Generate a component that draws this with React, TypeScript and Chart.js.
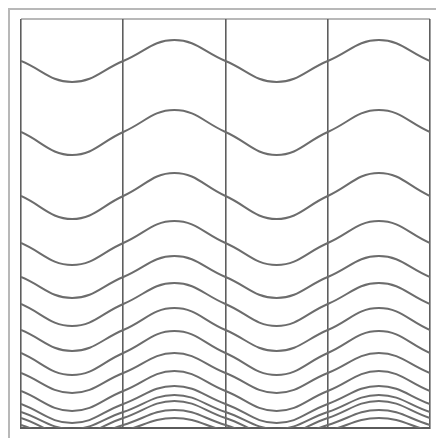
import React, { useEffect, useRef } from "react";
import { Chart, registerables } from "chart.js";

Chart.register(...registerables);

// Horizontal positions along the strip: dividers at whole numbers, wave extremes at halves
const xStops = [0, 0.5, 1, 1.5, 2, 2.5, 3, 3.5, 4];
const columnTicks = [0, 1, 2, 3, 4];
// Which value each stop uses
const stopKind = ["mid", "trough", "mid", "crest", "mid", "trough", "mid", "crest", "mid"];

// Depth (from top of plot) of each curve where it crosses the dividers
const dividerDepth = [42, 113, 177, 224, 258, 285, 311, 334, 354, 372, 385, 393, 399, 406, 412];
// Depth of each curve at its high points (columns 2 and 4)
const crestDepth = [21, 91, 154, 202, 237, 264, 289, 312, 334, 352, 367, 376, 382, 391, 399];
// Depth of each curve at its low points (columns 1 and 3)
const troughDepth = [63, 136, 200, 246, 279, 307, 332, 356, 374, 392, 404, 410, 416, 421, 425];

const depthMin = 0;
const depthMax = 409;

const framePlugin = {
  id: "frame",
  beforeDraw(chart: any) {
    const ctx = chart.ctx;
    ctx.save();
    ctx.fillStyle = "#ffffff";
    ctx.fillRect(0, 0, chart.width, chart.height);
    // outer frame
    ctx.strokeStyle = "#b8b8b8";
    ctx.lineWidth = 2;
    ctx.beginPath();
    ctx.moveTo(9, chart.height);
    ctx.lineTo(9, 9);
    ctx.lineTo(chart.width, 9);
    ctx.stroke();
    // top inner border
    const a = chart.chartArea;
    ctx.strokeStyle = "#a0a0a0";
    ctx.lineWidth = 1.5;
    ctx.beginPath();
    ctx.moveTo(a.left, a.top);
    ctx.lineTo(a.right, a.top);
    ctx.stroke();
    ctx.restore();
  },
};

export default function App() {
  const ref = useRef<HTMLCanvasElement | null>(null);

  useEffect(() => {
    if (!ref.current) return;
    const datasets = dividerDepth.map((mid, i) => ({
      label: "curve " + (i + 1),
      data: xStops.map((x, j) => ({
        x,
        y: stopKind[j] === "mid" ? mid : stopKind[j] === "crest" ? crestDepth[i] : troughDepth[i],
      })),
      borderColor: "#6c6c6c",
      borderWidth: 2,
      pointRadius: 0,
      fill: false,
      tension: 0.42,
    }));

    const chart = new Chart(ref.current, {
      type: "line",
      data: { datasets },
      options: {
        responsive: false,
        animation: false,
        events: [],
        layout: { padding: { left: 21, top: 19, right: 6, bottom: 10 } },
        plugins: { legend: { display: false }, tooltip: { enabled: false } },
        scales: {
          x: {
            type: "linear",
            min: 0,
            max: 4,
            afterBuildTicks: (s: any) => {
              s.ticks = columnTicks.map((v) => ({ value: v }));
            },
            ticks: { display: false },
            grid: { color: "#5e5e5e", lineWidth: 1.6, drawTicks: false },
            border: { display: true, color: "#5a5a5a", width: 2 },
          },
          y: {
            type: "linear",
            reverse: true,
            min: depthMin,
            max: depthMax,
            display: false,
          },
        },
      },
      plugins: [framePlugin],
    });
    return () => chart.destroy();
  }, []);

  return (
    <div style={{ position: "fixed", left: 0, top: 0, width: 436, height: 438, background: "#fff" }}>
      <canvas ref={ref} width={436} height={438} style={{ display: "block" }} />
    </div>
  );
}
